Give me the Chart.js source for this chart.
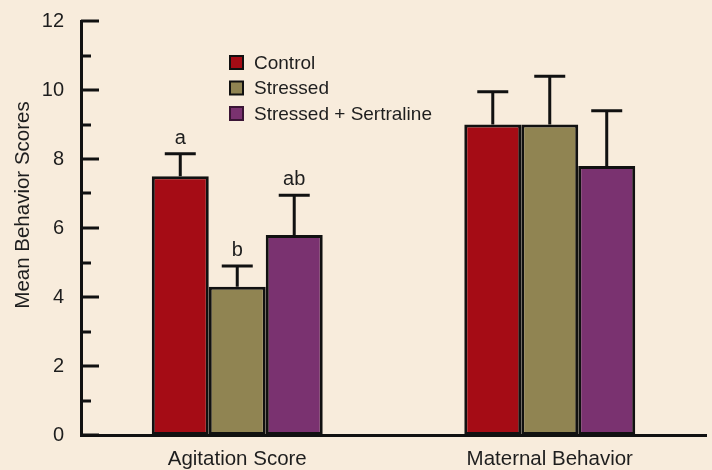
<!DOCTYPE html>
<html>
<head>
<meta charset="utf-8">
<script src="https://cdn.jsdelivr.net/npm/chart.js@4.4.1/dist/chart.umd.min.js"></script>
<style>
  html, body { margin: 0; padding: 0; background: #f8ecdc; }
  #wrap { width: 712px; height: 470px; }
</style>
</head>
<body>
<div id="wrap"><canvas id="chart"></canvas></div>
<script>
// data
var categories = ['Agitation Score', 'Maternal Behavior'];
var seriesNames = ['Control', 'Stressed', 'Stressed + Sertraline'];
var control = [7.5, 9.0];
var stressed = [4.3, 9.0];
var sertraline = [5.8, 7.8];
var controlErr = [0.65, 0.95];
var stressedErr = [0.6, 1.4];
var sertralineErr = [1.15, 1.6];
var sigLetters = [['a', 'b', 'ab'], ['', '', '']];
var yTicks = [0, 2, 4, 6, 8, 10, 12];

var colors = ['#a50c15', '#908452', '#7a3270'];
var font = '"Liberation Sans", Arial, sans-serif';
var textColor = '#1e1e1e';

// tick marks pointing inwards, like the original
var innerTicks = {
  id: 'innerTicks',
  afterDraw: function(chart) {
    var ctx = chart.ctx, y = chart.scales.y, left = chart.chartArea.left;
    ctx.save();
    ctx.strokeStyle = '#111';
    ctx.lineWidth = 3;
    for (var v = 0; v <= 12; v++) {
      var py = Math.round(y.getPixelForValue(v));
      var len = v % 2 === 0 ? 18 : 10;
      ctx.beginPath();
      ctx.moveTo(left, py);
      ctx.lineTo(left + len, py);
      ctx.stroke();
    }
    ctx.restore();
  }
};

var errorBars = {
  id: 'errorBars',
  afterDatasetsDraw: function(chart) {
    var ctx = chart.ctx, y = chart.scales.y;
    var errs = [controlErr, stressedErr, sertralineErr];
    ctx.save();
    ctx.strokeStyle = '#111';
    ctx.lineWidth = 3;
    chart.data.datasets.forEach(function(ds, i) {
      var meta = chart.getDatasetMeta(i);
      meta.data.forEach(function(bar, j) {
        var top = y.getPixelForValue(ds.data[j] + errs[i][j]);
        ctx.beginPath();
        ctx.moveTo(bar.x, bar.y);
        ctx.lineTo(bar.x, top);
        ctx.moveTo(bar.x - 15.5, top);
        ctx.lineTo(bar.x + 15.5, top);
        ctx.stroke();
        if (sigLetters[j][i]) {
          ctx.fillStyle = textColor;
          ctx.font = '20px ' + font;
          ctx.textAlign = 'center';
          ctx.textBaseline = 'alphabetic';
          ctx.fillText(sigLetters[j][i], bar.x, top - 10);
        }
      });
    });
    ctx.restore();
  }
};

var sideText = {
  id: 'sideText',
  afterDraw: function(chart) {
    var ctx = chart.ctx;
    ctx.save();
    // y title
    ctx.fillStyle = textColor;
    ctx.font = '20.5px ' + font;
    ctx.translate(23, 205);
    ctx.rotate(-Math.PI / 2);
    ctx.textAlign = 'center';
    ctx.textBaseline = 'middle';
    ctx.fillText('Mean Behavior Scores', 0, 0);
    ctx.restore();

    // legend
    ctx.save();
    ctx.font = '19px ' + font;
    ctx.textBaseline = 'middle';
    seriesNames.forEach(function(name, i) {
      var cy = 62.5 + i * 25.5;
      ctx.fillStyle = colors[i];
      ctx.fillRect(230, cy - 6.5, 13, 13);
      ctx.strokeStyle = i < 2 ? '#111' : '#3a1535';
      ctx.lineWidth = 2;
      ctx.strokeRect(230, cy - 6.5, 13, 13);
      ctx.fillStyle = textColor;
      ctx.fillText(name, 254, cy + 1);
    });
    ctx.restore();
  }
};

new Chart(document.getElementById('chart'), {
  type: 'bar',
  data: {
    labels: categories,
    datasets: [
      { label: seriesNames[0], data: control, backgroundColor: colors[0] },
      { label: seriesNames[1], data: stressed, backgroundColor: colors[1] },
      { label: seriesNames[2], data: sertraline, backgroundColor: colors[2] }
    ].map(function(d) {
      d.borderColor = '#111';
      d.borderWidth = 3;
      d.borderSkipped = false;
      d.barPercentage = 1;
      d.categoryPercentage = 0.547;
      return d;
    })
  },
  options: {
    responsive: true,
    maintainAspectRatio: false,
    animation: false,
    layout: { padding: { top: 19, right: 6, left: 0, bottom: 0 } },
    plugins: { legend: { display: false }, tooltip: { enabled: false } },
    scales: {
      x: {
        grid: { display: false },
        border: { display: true, color: '#111', width: 3 },
        ticks: { color: textColor, font: { family: font, size: 20.5 }, padding: 4 },
        afterFit: function(s) { s.height = 35; }
      },
      y: {
        min: 0, max: 12,
        afterBuildTicks: function(s) { s.ticks = yTicks.map(function(v) { return { value: v }; }); },
        grid: { display: false },
        border: { display: true, color: '#111', width: 3 },
        ticks: { color: textColor, font: { family: font, size: 20 }, padding: 9 },
        afterFit: function(s) { s.width = 81; }
      }
    }
  },
  plugins: [innerTicks, errorBars, sideText]
});
</script>
</body>
</html>
